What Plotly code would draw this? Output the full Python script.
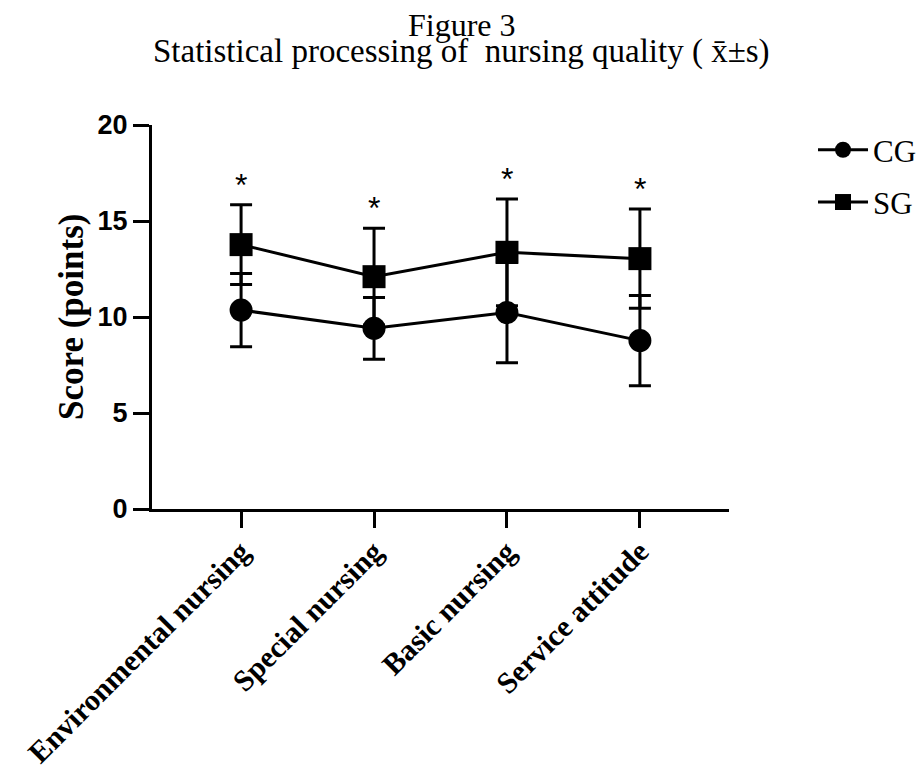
import plotly.graph_objects as go

categories = ["Environmental nursing", "Special nursing", "Basic nursing", "Service attitude"]
cg_mean = [10.36, 9.41, 10.23, 8.77]
cg_sd = [1.91, 1.61, 2.61, 2.35]
sg_mean = [13.77, 12.10, 13.37, 13.04]
sg_sd = [2.08, 2.52, 2.78, 2.59]
sig_marks = ["*", "*", "*", "*"]
y_ticks = [0, 5, 10, 15, 20]

serif = "Liberation Serif, Times New Roman, serif"
sans = "Liberation Sans, Arial, sans-serif"

fig = go.Figure()
fig.add_trace(go.Scatter(
    x=categories, y=cg_mean, name="CG", mode="lines+markers", legendgroup="cg",
    line=dict(color="black", width=3),
    marker=dict(symbol="circle", size=23, color="black"),
    error_y=dict(type="data", array=cg_sd, visible=True, color="black", thickness=3, width=11),
))
fig.add_trace(go.Scatter(
    x=categories, y=sg_mean, name="SG", mode="lines+markers", legendgroup="sg",
    line=dict(color="black", width=3),
    marker=dict(symbol="square", size=23, color="black"),
    error_y=dict(type="data", array=sg_sd, visible=True, color="black", thickness=3, width=11),
))

for c, m, s, t in zip(categories, sg_mean, sg_sd, sig_marks):
    fig.add_annotation(x=c, y=m + s, text=t, showarrow=False, yanchor="middle",
                       yshift=20, font=dict(family=sans, size=32, color="black"))

# titles
fig.add_annotation(xref="paper", yref="paper", x=0.537, y=1.26, text="Figure 3",
                   showarrow=False, yanchor="middle", xanchor="center",
                   font=dict(family=serif, size=32, color="black"))
fig.add_annotation(xref="paper", yref="paper", x=0.537, y=1.192,
                   text="Statistical processing of  nursing quality ( x\u0304\u00b1s)",
                   showarrow=False, yanchor="middle", xanchor="center",
                   font=dict(family=serif, size=33, color="black"))
fig.add_annotation(xref="paper", yref="paper", x=0, xshift=-81, y=0.5,
                   text="<b>Score (points)</b>", textangle=-90, showarrow=False,
                   xanchor="center", yanchor="middle",
                   font=dict(family=serif, size=35, color="black"))

fig.update_layout(
    width=950, height=777,
    margin=dict(l=144, r=229, t=117, b=276, autoexpand=False),
    paper_bgcolor="white", plot_bgcolor="white",
    showlegend=True,
    legend=dict(x=1.1456, y=1.005, xanchor="left", yanchor="top", itemwidth=50,
                font=dict(family=serif, size=31, color="black"),
                traceorder="grouped", tracegroupgap=9,
                bgcolor="rgba(0,0,0,0)"),
    xaxis=dict(
        type="category", range=[-0.67, 3.67], automargin=False,
        showline=True, linecolor="black", linewidth=3,
        ticks="outside", ticklen=16, tickwidth=3, tickcolor="black",
        tickangle=-45, showgrid=False, zeroline=False, ticklabelstandoff=-6,
        tickfont=dict(family=serif, size=30, color="black"),
    ),
    yaxis=dict(
        range=[0, 20], tickvals=y_ticks, automargin=False,
        ticktext=["<b>%d</b>" % v for v in y_ticks],
        showline=True, linecolor="black", linewidth=3,
        ticks="outside", ticklen=16, tickwidth=3, tickcolor="black",
        showgrid=False, zeroline=False,
        tickfont=dict(family=sans, size=27, color="black"),
    ),
)
fig.update_xaxes(ticktext=["<b>%s</b>" % c for c in categories], tickvals=categories)

fig.write_html("out.html")
